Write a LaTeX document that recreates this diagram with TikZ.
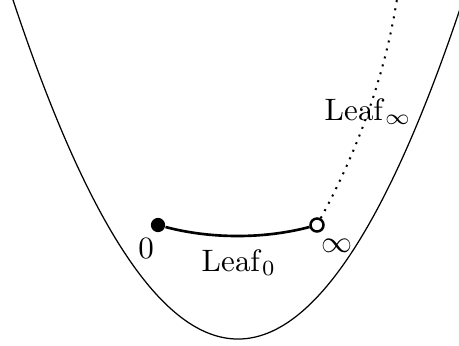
\documentclass[tikz,border=0pt]{standalone}
\begin{document}
\begin{tikzpicture}[x=0.32258pt,y=-0.32258pt,
  curveline/.style={line width=0.4pt},
  leafline/.style={line width=0.85pt},
  leafdots/.style={line width=0.65pt,dotted},
  fulldot/.style={circle,fill=black,inner sep=0pt,minimum size=4.6pt},
  opendot/.style={circle,draw=black,fill=white,line width=0.8pt,inner sep=0pt,minimum size=4.2pt},
  lbl/.style={inner sep=0pt}]
\useasboundingbox (0,0) rectangle (459,345);
\begin{scope}
\clip (0,0) rectangle (459,345);
\draw[curveline,domain=5:472,samples=160,smooth] plot (\x,{339-(0.08185*(\x-238))^2});
\end{scope}
\node[fulldot] (zero) at (158,225) {};
\node[opendot] (inf) at (317,225) {};
\coordinate (top) at (397,-1);
\draw[leafline] (zero) .. controls (211,239) and (264,239) .. (inf);
\draw[leafdots] (inf) .. controls (358,150) and (385,75) .. (top);
\node[lbl,anchor=base] (lzero) at (146,258) {$0$};
\node[lbl,anchor=base] (linf) at (337,252) {$\infty$};
\node[lbl,anchor=base west] (leafzero) at (201,271) {$\mathrm{Leaf}_0$};
\node[lbl,anchor=base west] (leafinf) at (324,120) {$\mathrm{Leaf}_\infty$};
\end{tikzpicture}
\end{document}
